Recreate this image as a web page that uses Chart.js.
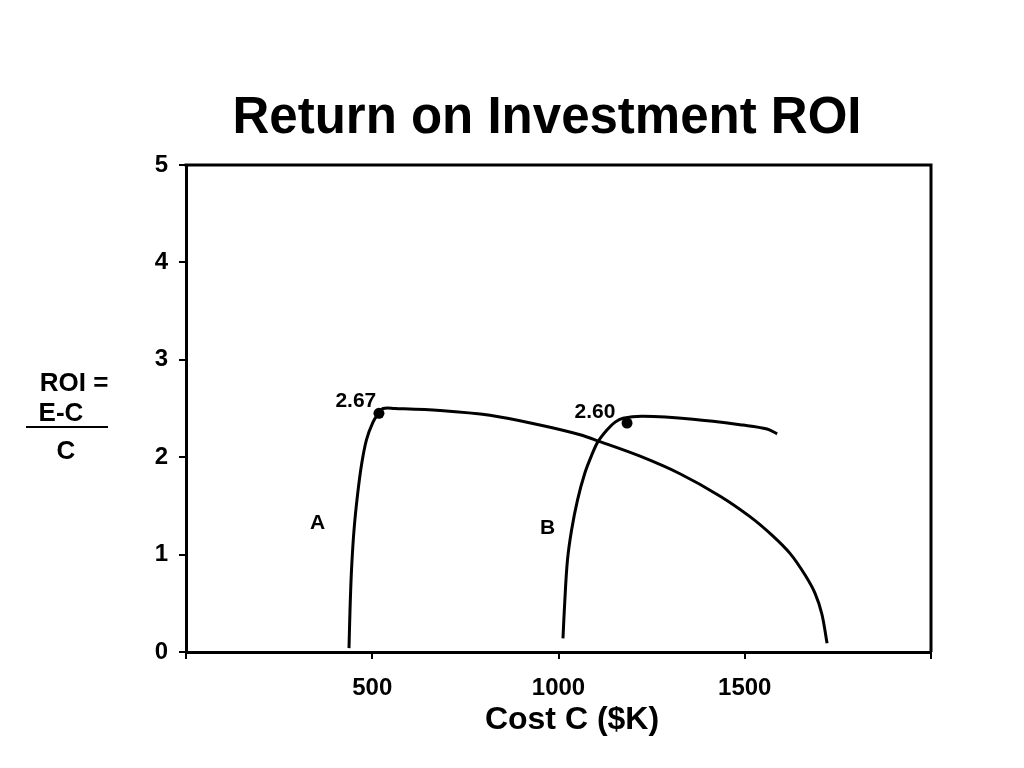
<!DOCTYPE html>
<html><head><meta charset="utf-8">
<script src="https://cdn.jsdelivr.net/npm/chart.js@4.4.0/dist/chart.umd.min.js"></script>
<style>html,body{margin:0;padding:0;background:#fff;overflow:hidden;} #wrap{width:1024px;height:768px;}</style>
</head><body><div id="wrap"><canvas id="c" width="1024" height="768"></canvas></div>
<script>
// Curve A: cost ($K) vs ROI
const curveA_cost = [437.6, 440.3, 444.3, 451.0, 460.4, 471.1, 484.6, 502.0, 516.8, 528.9, 561, 682, 816, 950, 1058, 1111, 1219, 1326, 1434, 1514, 1573, 1622, 1662, 1689, 1707, 1721];
const curveA_roi  = [0.04, 0.43, 0.84, 1.25, 1.61, 1.92, 2.18, 2.36, 2.45, 2.50, 2.50, 2.48, 2.43, 2.33, 2.23, 2.16, 2.01, 1.83, 1.60, 1.39, 1.20, 1.01, 0.79, 0.60, 0.39, 0.09];
// Curve B
const curveB_cost = [1012, 1017, 1024, 1035, 1051, 1071, 1089, 1106, 1130, 1152, 1173, 1227, 1361, 1495, 1560, 1587];
const curveB_roi  = [0.14, 0.53, 0.94, 1.25, 1.56, 1.84, 2.02, 2.16, 2.28, 2.36, 2.40, 2.42, 2.39, 2.33, 2.29, 2.24];
// Marked optimum points
const optimumCost = [518, 1184];
const optimumRoi  = [2.45, 2.35];
const optimumLabels = ['2.67', '2.60'];
const optimumLabelCost = [456, 1098];
const optimumLabelRoi  = [2.58, 2.46];
// Curve names
const curveNames = ['A', 'B'];
const curveNameCost = [353, 971];
const curveNameRoi  = [1.32, 1.27];
// Axis ticks
const xTicks = [0, 500, 1000, 1500, 2000];
const xTickLabels = ['', '500', '1000', '1500', ''];
const yTicks = [0, 1, 2, 3, 4, 5];

const titleText = 'Return on Investment ROI';
const xTitleText = 'Cost C ($K)';

const FONT = '"Liberation Sans", Arial, Helvetica, sans-serif';

const toPts = (xs, ys) => xs.map((x, i) => ({x: x, y: ys[i]}));

const annot = {
  id: 'annot',
  afterDraw(chart) {
    const ctx = chart.ctx, a = chart.chartArea;
    const xs = chart.scales.x, ys = chart.scales.y;
    ctx.save();
    // frame top & right
    ctx.strokeStyle = '#000'; ctx.lineWidth = 3;
    ctx.beginPath();
    ctx.moveTo(a.left - 1.5, a.top); ctx.lineTo(a.right, a.top); ctx.lineTo(a.right, a.bottom);
    ctx.stroke();
    ctx.fillStyle = '#000';
    ctx.textAlign = 'center'; ctx.textBaseline = 'middle';
    // title
    ctx.font = 'bold 51px ' + FONT;
    ctx.fillText(titleText, 547, 119);
    // x title
    ctx.font = 'bold 32px ' + FONT;
    ctx.fillText(xTitleText, 572, 720);
    // formula
    ctx.font = 'bold 26px ' + FONT;
    ctx.fillText('ROI =', 74, 384);
    ctx.fillText('E-C', 61, 414);
    ctx.fillText('C', 66, 452);
    ctx.lineWidth = 2;
    ctx.beginPath(); ctx.moveTo(26, 427); ctx.lineTo(108, 427); ctx.stroke();
    // point labels
    ctx.font = 'bold 21px ' + FONT;
    optimumLabels.forEach((t, i) => {
      ctx.fillText(t, xs.getPixelForValue(optimumLabelCost[i]), ys.getPixelForValue(optimumLabelRoi[i]));
    });
    curveNames.forEach((t, i) => {
      ctx.fillText(t, xs.getPixelForValue(curveNameCost[i]), ys.getPixelForValue(curveNameRoi[i]));
    });
    ctx.restore();
  }
};

new Chart(document.getElementById('c'), {
  type: 'scatter',
  data: {
    datasets: [
      {label: 'A', data: toPts(curveA_cost, curveA_roi), showLine: true, borderColor: '#000', borderWidth: 3,
       pointRadius: 0, tension: 0.35, fill: false, borderCapStyle: 'butt', borderJoinStyle: 'round'},
      {label: 'B', data: toPts(curveB_cost, curveB_roi), showLine: true, borderColor: '#000', borderWidth: 3,
       pointRadius: 0, tension: 0.35, fill: false, borderCapStyle: 'butt', borderJoinStyle: 'round'},
      {label: 'Optimum', data: toPts(optimumCost, optimumRoi), showLine: false, pointRadius: 5.5,
       backgroundColor: '#000', borderColor: '#000', borderWidth: 0}
    ]
  },
  options: {
    responsive: false,
    animation: false,
    devicePixelRatio: 1,
    layout: {padding: {top: 165, right: 93, left: 0, bottom: 0}},
    plugins: {legend: {display: false}, tooltip: {enabled: false}, title: {display: false}},
    scales: {
      x: {
        type: 'linear', min: 0, max: 2000,
        afterBuildTicks: s => { s.ticks = xTicks.map(v => ({value: v})); },
        afterFit: s => { s.height = 116; },
        ticks: {autoSkip: false, maxRotation: 0, color: '#000', padding: 15,
                font: {family: FONT, size: 24, weight: 'bold'},
                callback: (v) => xTickLabels[xTicks.indexOf(v)] ?? ''},
        grid: {drawOnChartArea: false, drawTicks: true, tickLength: 7, color: '#000', lineWidth: 2},
        border: {display: true, color: '#000', width: 3}
      },
      y: {
        type: 'linear', min: 0, max: 5,
        afterBuildTicks: s => { s.ticks = yTicks.map(v => ({value: v})); },
        afterFit: s => { s.width = 186; },
        ticks: {autoSkip: false, color: '#000', padding: 11,
                font: {family: FONT, size: 24, weight: 'bold'}},
        grid: {drawOnChartArea: false, drawTicks: true, tickLength: 7, color: '#000', lineWidth: 2},
        border: {display: true, color: '#000', width: 3}
      }
    }
  },
  plugins: [annot]
});
</script>
</body></html>
